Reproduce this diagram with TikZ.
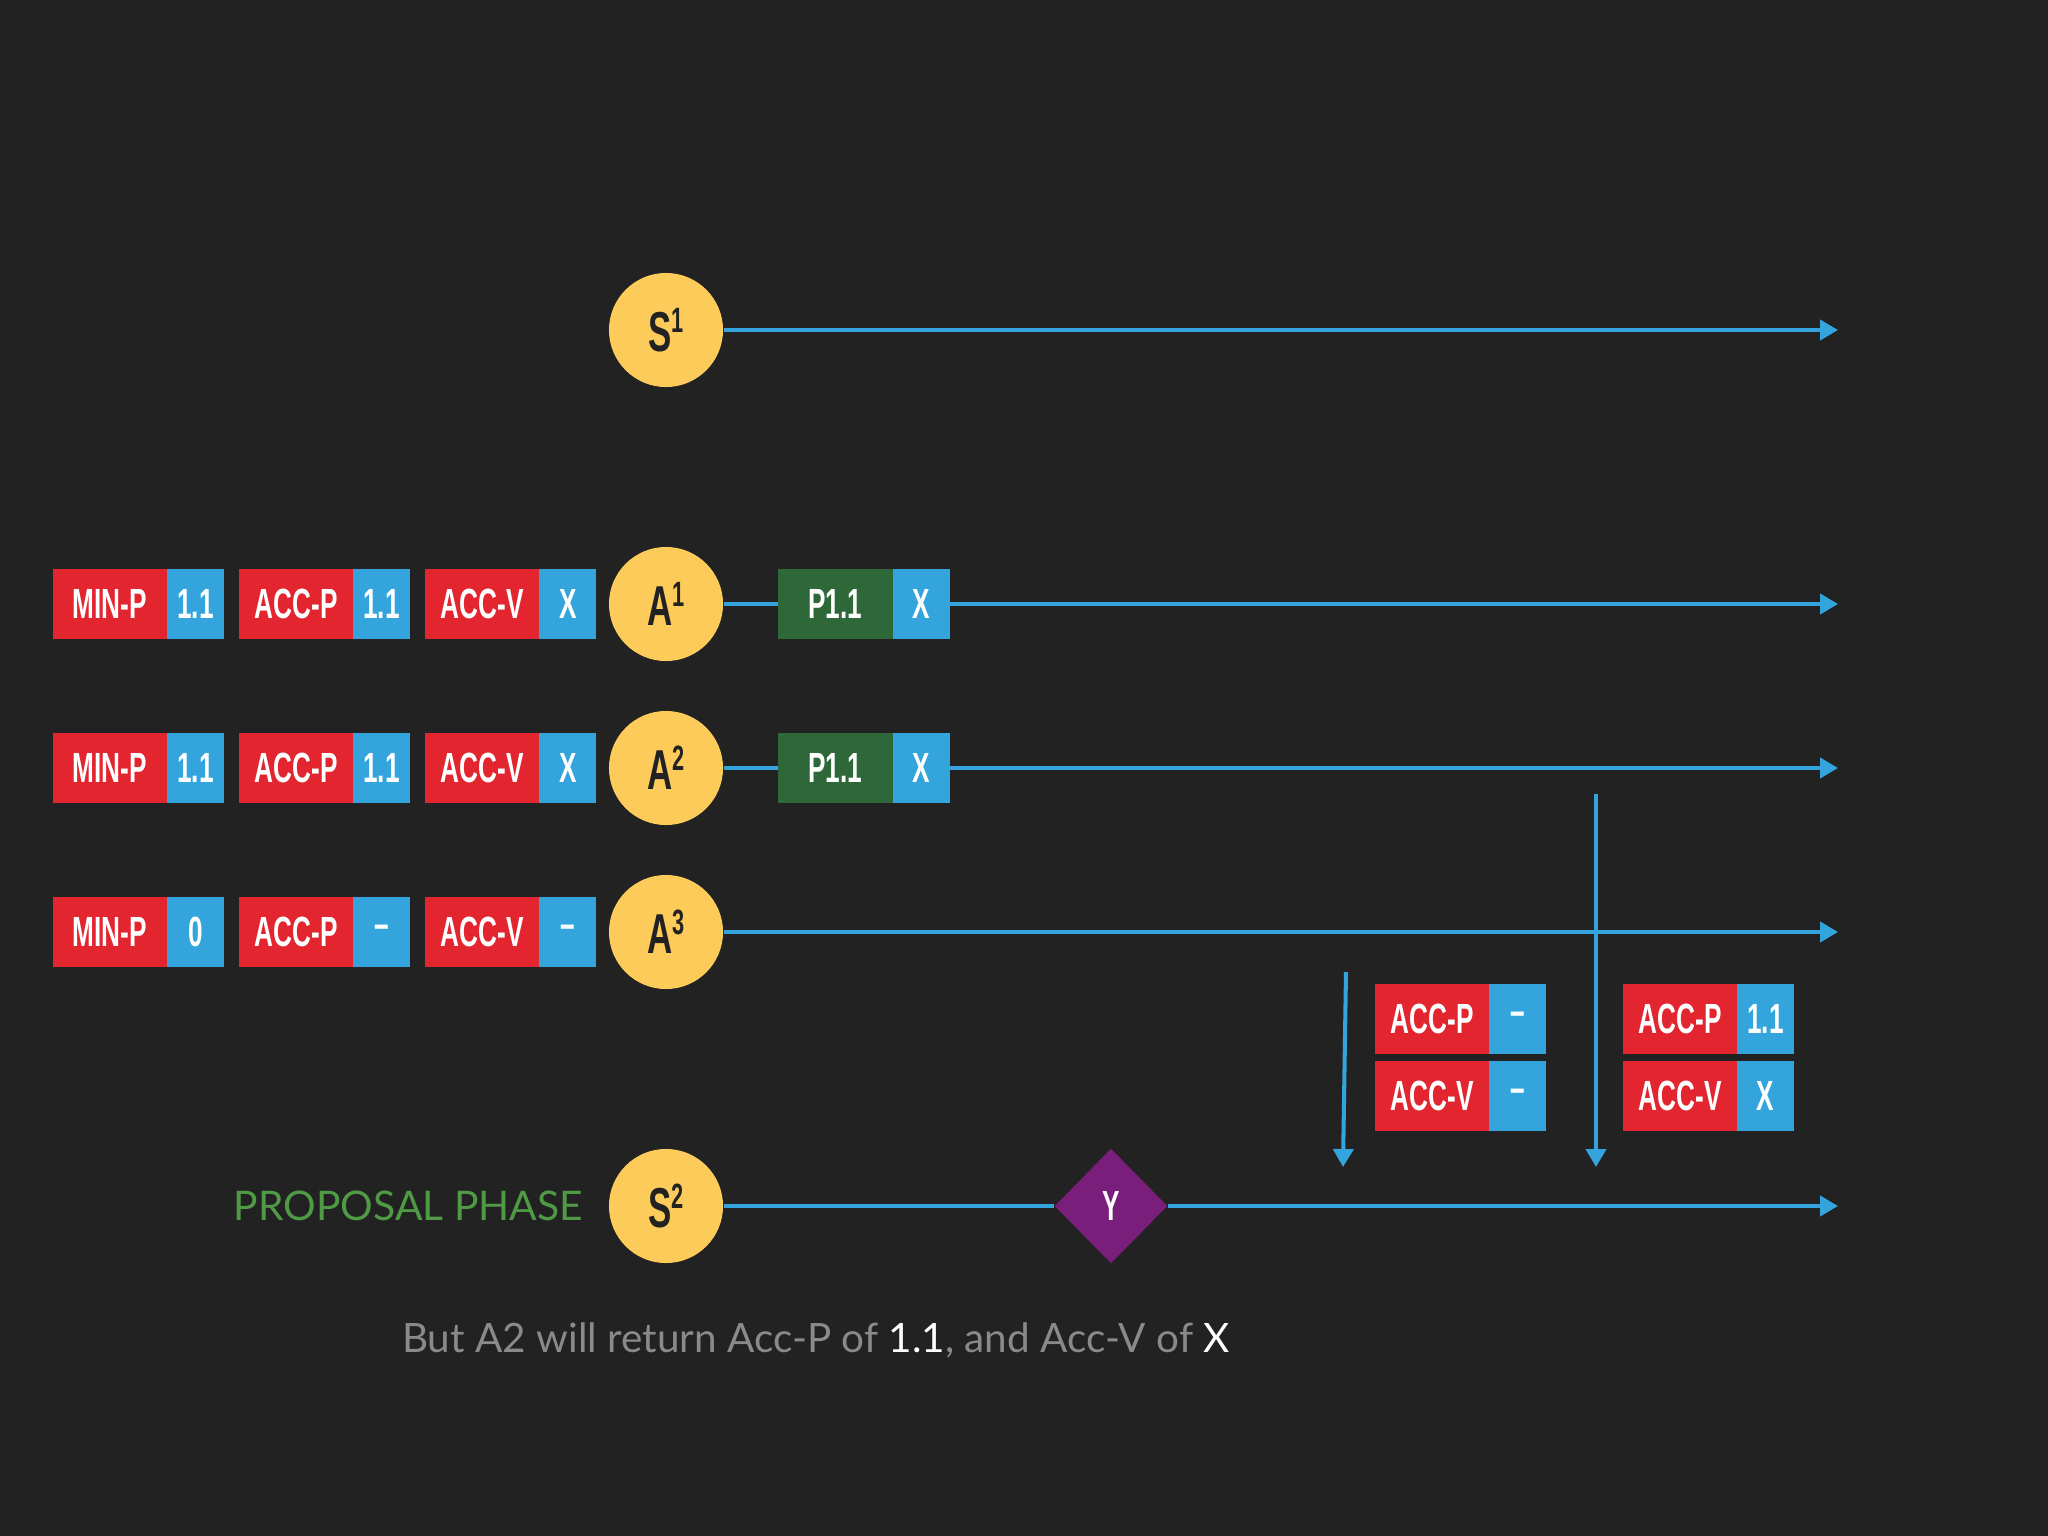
\documentclass[tikz,border=0pt]{standalone}
\usepackage{fontspec}
\setmainfont{Lato}
\newfontfamily\dinfont{Liberation Sans}[FakeStretch=0.62]
\usepackage{xcolor}
\usetikzlibrary{shapes.geometric, arrows.meta, positioning}

\definecolor{bgdark}{HTML}{222223}
\definecolor{keyred}{HTML}{E2252F}
\definecolor{valblue}{HTML}{34A5DC}
\definecolor{propgreen}{HTML}{2E6838}
\definecolor{agentyellow}{HTML}{FCCB5A}
\definecolor{decpurple}{HTML}{7A1E7C}
\definecolor{phasegreen}{HTML}{509A46}
\definecolor{notegray}{HTML}{8A8A8A}

\newcommand\circsup[1]{\raisebox{5.5pt}{\fontsize{10}{10}\selectfont #1}}

\begin{document}
\begin{tikzpicture}[
  x=0.01cm, y=-0.01cm,
  node distance=0.15cm,
  keybox/.style={rectangle, fill=keyred, text=white, minimum width=1.14cm,
                 minimum height=0.7cm, inner sep=0pt, outer sep=0pt,
                 font=\dinfont\bfseries\fontsize{12}{14}\selectfont},
  valbox/.style={keybox, fill=valblue, minimum width=0.57cm},
  propbox/.style={keybox, fill=propgreen, minimum width=1.15cm},
  agent/.style={circle, fill=agentyellow, minimum size=1.14cm, inner sep=0pt,
                text=bgdark, font=\dinfont\bfseries\fontsize{16}{18}\selectfont},
  decision/.style={diamond, fill=decpurple, minimum width=1.13cm, minimum height=1.15cm,
                   inner sep=0pt, text=white, font=\dinfont\bfseries\fontsize{12}{14}\selectfont},
  line/.style={draw=valblue, line width=1.15pt},
  arrow/.style={line, -{Triangle[length=0.18cm, width=0.2cm]}}
]
\fill[bgdark] (0,0) rectangle (2048,1536);

% servers and acceptors
\node[agent] (s1) at (666,330) {S\circsup{1}};
\node[agent] (a1) at (666,604) {A\circsup{1}};
\node[agent] (a2) at (666,768) {A\circsup{2}};
\node[agent] (a3) at (666,932) {A\circsup{3}};
\node[agent] (s2) at (666,1206) {S\circsup{2}};

% acceptor state, row 1
\node[valbox, left=0.12cm of a1] (a1accvv) {X};
\node[keybox, left=0pt of a1accvv] (a1accv) {ACC-V};
\node[valbox, left=of a1accv] (a1accpv) {1.1};
\node[keybox, left=0pt of a1accpv] (a1accp) {ACC-P};
\node[valbox, left=of a1accp] (a1minpv) {1.1};
\node[keybox, left=0pt of a1minpv] (a1minp) {MIN-P};

% acceptor state, row 2
\node[valbox, left=0.12cm of a2] (a2accvv) {X};
\node[keybox, left=0pt of a2accvv] (a2accv) {ACC-V};
\node[valbox, left=of a2accv] (a2accpv) {1.1};
\node[keybox, left=0pt of a2accpv] (a2accp) {ACC-P};
\node[valbox, left=of a2accp] (a2minpv) {1.1};
\node[keybox, left=0pt of a2minpv] (a2minp) {MIN-P};

% acceptor state, row 3
\node[valbox, left=0.12cm of a3] (a3accvv) {\textendash};
\node[keybox, left=0pt of a3accvv] (a3accv) {ACC-V};
\node[valbox, left=of a3accv] (a3accpv) {\textendash};
\node[keybox, left=0pt of a3accpv] (a3accp) {ACC-P};
\node[valbox, left=of a3accp] (a3minpv) {0};
\node[keybox, left=0pt of a3minpv] (a3minp) {MIN-P};

% accepted proposals
\node[propbox, right=0.54cm of a1] (a1prop) {P1.1};
\node[valbox, right=0pt of a1prop] (a1propv) {X};
\node[propbox, right=0.54cm of a2] (a2prop) {P1.1};
\node[valbox, right=0pt of a2prop] (a2propv) {X};

% replies
\node[keybox, anchor=north west] (laccp) at (1375,984) {ACC-P};
\node[valbox, right=0pt of laccp] (laccpv) {\textendash};
\node[keybox, below=0.07cm of laccp] (laccv) {ACC-V};
\node[valbox, right=0pt of laccv] (laccvv) {\textendash};
\node[keybox, anchor=north west] (raccp) at (1623,984) {ACC-P};
\node[valbox, right=0pt of raccp] (raccpv) {1.1};
\node[keybox, below=0.07cm of raccp] (raccv) {ACC-V};
\node[valbox, right=0pt of raccv] (raccvv) {X};

\node[decision] (y) at (1111,1206) {Y};

\node[left=0.13cm of s2, text=phasegreen, font=\fontsize{11.6}{13}\selectfont] (phase) {PROPOSAL PHASE};
\node[text=notegray, font=\fontsize{11.5}{13}\selectfont] (note) at (816,1340)
  {But A2 will return Acc-P of \textcolor{white}{1.1}, and Acc-V of \textcolor{white}{X}};

% timelines
\coordinate (tend) at (1838,0);
\draw[arrow] (s1) -- (s1 -| tend);
\draw[line] (a1) -- (a1prop);
\draw[arrow] (a1propv) -- (a1propv -| tend);
\draw[line] (a2) -- (a2prop);
\draw[arrow] (a2propv) -- (a2propv -| tend);
\draw[arrow] (a3) -- (a3 -| tend);
\draw[line] (s2) -- (y);
\draw[arrow] (y) -- (y -| tend);

% promises travelling back
\coordinate (d1top) at (1346,972);
\coordinate (d1tip) at (1343,1167);
\coordinate (d2top) at (1596,794);
\coordinate (d2tip) at (1596,1167);
\draw[arrow] (d1top) -- (d1tip);
\draw[arrow] (d2top) -- (d2tip);
\end{tikzpicture}
\end{document}
